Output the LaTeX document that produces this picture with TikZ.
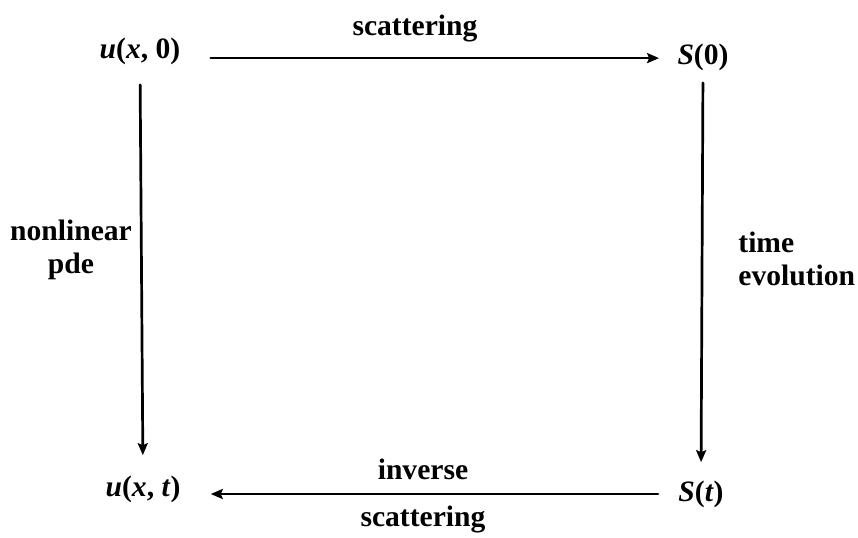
\documentclass[tikz,border=0pt]{standalone}
\usepackage{fontspec}
\setmainfont{Liberation Serif}
\usetikzlibrary{arrows.meta}
\newcommand{\bi}[1]{\textit{#1}}
\begin{document}
\begin{tikzpicture}[x=0.5pt, y=-0.5pt, line cap=round,
    every node/.style={font=\fontsize{14.8}{16.5}\selectfont\bfseries, inner sep=0pt},
    arr/.style={line width=1.35pt, -{Stealth[length=6pt, width=5pt, inset=1pt]}}]
  \useasboundingbox (0,0) rectangle (858,537);
  % ── los cuatro estados ──
  \node (ux0) at (140,51)  {\bi{u}(\bi{x}, 0)};
  \node (S0)  at (703,57)  {\bi{S}(0)};
  \node (uxt) at (143,489) {\bi{u}(\bi{x}, \bi{t})};
  \node (St)  at (701,494) {\bi{S}(\bi{t})};
  % ── flechas ──
  \draw[arr, shorten <=15pt, shorten >=9pt] (ux0.base east) -- (ux0.base east -| S0.west);
  \draw[arr, shorten <=6pt, shorten >=9pt] (S0.south) -- (St.north);
  \draw[arr, shorten <=10pt, shorten >=15pt] (St.west) -- (St.west -| uxt.east);
  \draw[arr, shorten <=10pt, shorten >=10pt] (ux0.south) -- (uxt.north);
  % ── rótulos ──
  \node (scat)  at (415,28)  {scattering};
  \node (inv)   at (423,469) {inverse};
  \node (scat2) at (423,519) {scattering};
  \node[align=center] (pde) at (71,250) {nonlinear\\pde};
  \node[align=left, anchor=west] (evo) at (738,259) {time\\evolution};
\end{tikzpicture}
\end{document}
